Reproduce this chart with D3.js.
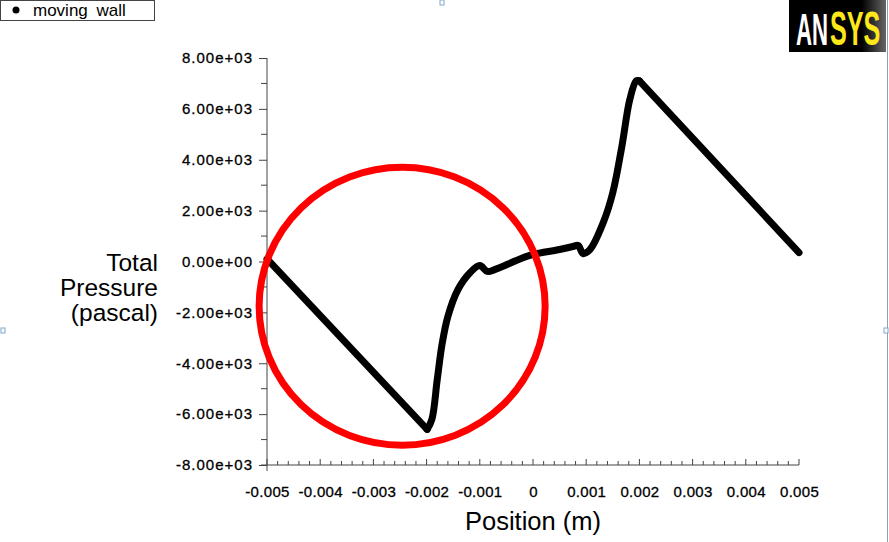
<!DOCTYPE html>
<html>
<head>
<meta charset="utf-8">
<script src="https://cdn.jsdelivr.net/npm/d3@7"></script>
<style>
  body { margin: 0; background: #fff; }
  text { font-family: Arial, "Liberation Sans", sans-serif; }
</style>
</head>
<body>
<div id="chart"></div>
<script>
// Total pressure along the moving wall
var positions = [-0.005, -0.00199, -0.0019, -0.0018, -0.00171, -0.0016, -0.00141, -0.00118, -0.001, -0.00086,
                 -0.00071, -0.00006, 0.0005, 0.00075, 0.00085, 0.00094, 0.00107, 0.00132, 0.0015, 0.00167,
                 0.00182, 0.00194, 0.002, 0.005];
var pressures = [100, -6600, -6200, -4640, -3260, -2160, -1100, -430, -160, -390,
                 -310, 240, 470, 590, 630, 310, 470, 1530, 2710, 4520,
                 6370, 7100, 7100, 350];
var xTicks = [-0.005, -0.004, -0.003, -0.002, -0.001, 0, 0.001, 0.002, 0.003, 0.004, 0.005];
var yTicks = [-8000, -6000, -4000, -2000, 0, 2000, 4000, 6000, 8000];
var seriesName = "moving wall";
// highlighted region (centre in data units)
var highlight = {x: -0.00246, y: -1760};

function main() {
    var width = 889, height = 542;
    var svg = d3.select("#chart").append("svg")
                .attr("width", width).attr("height", height);

    var x = d3.scaleLinear().domain([-0.005, 0.005]).range([267, 799]);
    var y = d3.scaleLinear().domain([-8000, 8000]).range([465, 58]);

    // y axis
    var yAxis = d3.axisLeft(y).tickValues(yTicks).tickSize(8).tickPadding(6)
                  .tickFormat(function(d){ return d3.format(".2e")(d).replace("−", "-").replace(/e([+-])(\d)$/, "e$10$2"); });
    var gy = svg.append("g").attr("transform", "translate(267,0)").call(yAxis);
    gy.select(".domain").remove();
    gy.append("line").attr("x1", 0).attr("x2", 0).attr("y1", y(8000)).attr("y2", y(-8000) + 6)
      .attr("stroke", "#444");
    gy.selectAll(".minor").data(d3.range(-7000, 8000, 2000)).enter().append("line")
      .attr("x1", -6).attr("x2", 0).attr("y1", function(d){ return y(d); }).attr("y2", function(d){ return y(d); })
      .attr("stroke", "#444");
    gy.selectAll(".tick line").attr("stroke", "#444");
    gy.selectAll(".tick text").attr("font-size", 15).attr("letter-spacing", 1).attr("fill", "#000")
      .attr("stroke", "#000").attr("stroke-width", 0.3);

    // x axis
    var xAxis = d3.axisBottom(x).tickValues(xTicks).tickSize(0).tickPadding(21)
                  .tickFormat(function(d){ return d === 0 ? "0" : d3.format(".3f")(d).replace("−", "-"); });
    var gx = svg.append("g").attr("transform", "translate(0,465)").call(xAxis);
    gx.select(".domain").remove();
    gx.append("line").attr("x1", x(-0.005) - 6).attr("x2", x(0.005)).attr("stroke", "#444");
    gx.selectAll(".xt").data(d3.range(-0.005, 0.00501, 0.0002)).enter().append("line")
      .attr("x1", function(d){ return x(d); }).attr("x2", function(d){ return x(d); })
      .attr("y1", 0).attr("y2", function(d, i){ return i % 5 === 0 ? -6 : -4; })
      .attr("stroke", "#444");
    gx.selectAll(".tick text").attr("font-size", 15).attr("letter-spacing", 0.3).attr("fill", "#000")
      .attr("stroke", "#000").attr("stroke-width", 0.3);

    // axis titles
    ["Total", "Pressure", "(pascal)"].forEach(function(t, i){
        svg.append("text").attr("text-anchor", "end").attr("font-size", 24.5)
           .attr("fill", "#000").attr("x", 158).attr("y", 271 + i * 25).text(t);
    });
    svg.append("text").attr("x", x(0)).attr("y", 530).attr("text-anchor", "middle")
       .attr("font-size", 25.5).attr("fill", "#000").text("Position (m)");

    // data line: straight ramps at both ends, smooth in between
    var pts = positions.map(function(p, i){ return [p, pressures[i]]; });
    var n = pts.length;
    var straight = d3.line().x(function(d){ return x(d[0]); }).y(function(d){ return y(d[1]); });
    var smooth = d3.line().x(function(d){ return x(d[0]); }).y(function(d){ return y(d[1]); })
                   .curve(d3.curveCatmullRom.alpha(0.5));
    var parts = [[straight, pts.slice(0, 2)], [smooth, pts.slice(1, n - 1)], [straight, pts.slice(n - 2)]];
    svg.selectAll(".wall").data(parts).enter().append("path")
       .attr("d", function(d){ return d[0](d[1]); }).attr("fill", "none")
       .attr("stroke", "#000").attr("stroke-width", 7).attr("stroke-linejoin", "round")
       .attr("stroke-linecap", "round");

    // red circle
    svg.append("ellipse").attr("cx", x(highlight.x)).attr("cy", y(highlight.y))
       .attr("rx", 143).attr("ry", 139).attr("fill", "none")
       .attr("stroke", "#f00").attr("stroke-width", 7);

    // legend
    svg.append("rect").attr("x", 0.5).attr("y", 0.5).attr("width", 154).attr("height", 20)
       .attr("fill", "#fff").attr("stroke", "#444");
    svg.append("circle").attr("cx", 16).attr("cy", 10).attr("r", 3.5).attr("fill", "#000");
    svg.append("text").attr("x", 33).attr("y", 16).attr("font-size", 17).attr("fill", "#000")
       .attr("word-spacing", 4).text(seriesName);

    // logo
    var logo = svg.append("g");
    var grad = svg.append("defs").append("linearGradient").attr("id", "lg");
    grad.append("stop").attr("offset", "0.75").attr("stop-color", "#000");
    grad.append("stop").attr("offset", "1").attr("stop-color", "#666");
    logo.append("rect").attr("x", 789).attr("y", 0).attr("width", 97).attr("height", 52).attr("fill", "url(#lg)");
    logo.append("text").attr("transform", "translate(796,45) scale(0.74,1.5)")
        .attr("font-size", 30).attr("font-weight", "bold").attr("fill", "#fff").text("AN");
    logo.append("text").attr("transform", "translate(830,45) scale(0.84,1.6)")
        .attr("font-size", 30).attr("font-weight", "bold").attr("fill", "#ffe81a")
        .attr("font-family", "Liberation Serif, serif").text("SYS");

    // frame bits
    svg.append("line").attr("x1", 887.5).attr("x2", 887.5).attr("y1", 0).attr("y2", height)
       .attr("stroke", "#8aa0b8");
    [[1, 328], [884, 328], [440, 0]].forEach(function(p){
        svg.append("rect").attr("x", p[0]).attr("y", p[1]).attr("width", 4).attr("height", 5)
           .attr("fill", "#fff").attr("stroke", "#7fa6c8");
    });
}
main();
</script>
</body>
</html>
